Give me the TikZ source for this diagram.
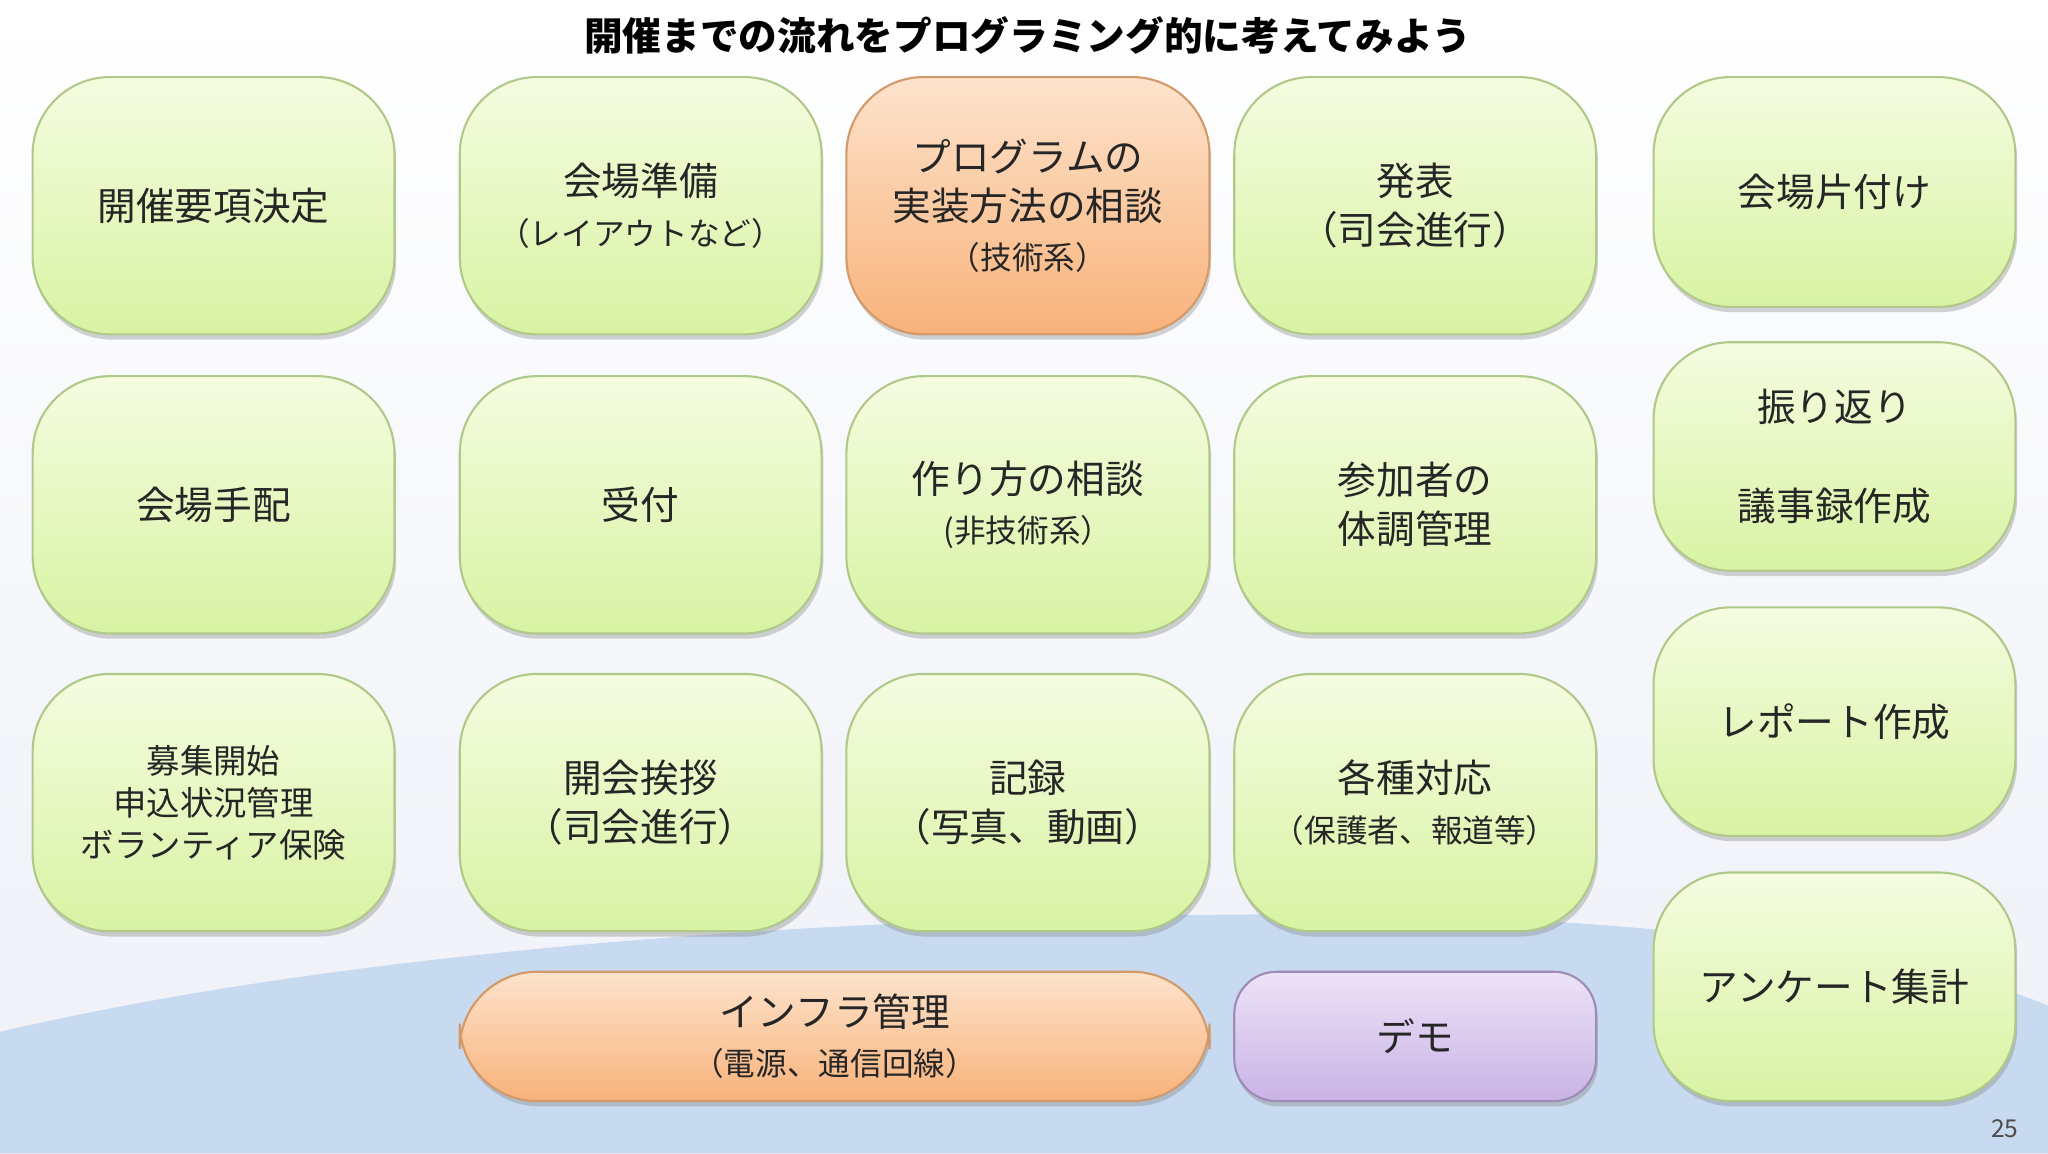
\documentclass[tikz,border=0pt]{standalone}
\usepackage{fontspec}
\newfontfamily\jp{Noto Sans CJK JP}
\usetikzlibrary{shadows}
\definecolor{gA}{HTML}{F5FCE0}\definecolor{gB}{HTML}{D8F3A3}\definecolor{gD}{HTML}{AFC98A}
\definecolor{oA}{HTML}{FDE3CC}\definecolor{oB}{HTML}{F8B27A}\definecolor{oD}{HTML}{D29A6A}
\definecolor{pA}{HTML}{ECE3F7}\definecolor{pB}{HTML}{C9B3E6}\definecolor{pD}{HTML}{9E8BB8}
\definecolor{bgT}{HTML}{FFFFFF}\definecolor{bgB}{HTML}{EEF0F7}\definecolor{arc}{HTML}{C8DAF0}
\tikzset{
 box/.style={rounded corners=22pt,top color=gA,bottom color=gB,draw=gD,line width=0.6pt,
   drop shadow={shadow xshift=0.5pt,shadow yshift=-1.5pt,opacity=0.35}},
 obox/.style={box,top color=oA,bottom color=oB,draw=oD},
 pbox/.style={box,top color=pA,bottom color=pB,draw=pD,rounded corners=12pt},
 lbl/.style={align=center,font=\jp\fontsize{11}{14}\selectfont,text=black!85},
 lsm/.style={lbl,font=\jp\fontsize{9.5}{12}\selectfont}
}
\newcommand{\sm}{\fontsize{9}{11}\selectfont}
\newcommand{\bx}[7][lbl]{\path[#2] (#3,#4) rectangle (#5,#6); \node[#1] at ({(#3+#5)/2},{(#4+#6)/2}) {#7};}
\begin{document}
\begin{tikzpicture}[x=0.013061cm,y=-0.013061cm]
\useasboundingbox (0,0) rectangle (1568,883);
\fill[top color=bgT,bottom color=bgB] (0,0) rectangle (1568,883);
\fill[arc] (0,790) .. controls (300,720) and (700,700) .. (1000,700) .. controls (1300,700) and (1500,740) .. (1568,770) -- (1568,883) -- (0,883) -- cycle;
\node[font=\jp\bfseries\fontsize{11}{13}\selectfont] (title) at (787,27) {開催までの流れをプログラミング的に考えてみよう};
\bx{box}{25}{59}{302}{256}{開催要項決定}
\bx{box}{352}{59}{629}{256}{会場準備\\\sm（レイアウトなど）}
\bx{obox}{648}{59}{926}{256}{プログラムの\\実装方法の相談\\\sm（技術系）}
\bx{box}{945}{59}{1222}{256}{発表\\（司会進行）}
\bx{box}{1266}{59}{1543}{235}{会場片付け}
\bx{box}{25}{288}{302}{485}{会場手配}
\bx{box}{352}{288}{629}{485}{受付}
\bx{box}{648}{288}{926}{485}{作り方の相談\\\sm(非技術系）}
\bx{box}{945}{288}{1222}{485}{参加者の\\体調管理}
\bx{box}{1266}{262}{1543}{437}{振り返り\\[14pt]議事録作成}
\bx[lsm]{box}{25}{516}{302}{713}{募集開始\\申込状況管理\\ボランティア保険}
\bx{box}{352}{516}{629}{713}{開会挨拶\\（司会進行）}
\bx{box}{648}{516}{926}{713}{記録\\（写真、動画）}
\bx{box}{945}{516}{1222}{713}{各種対応\\\sm（保護者、報道等）}
\bx{box}{1266}{465}{1543}{640}{レポート作成}
\bx{box}{1266}{668}{1543}{843}{アンケート集計}
\bx{obox}{352}{744}{926}{843}{インフラ管理\\\sm（電源、通信回線）}
\bx{pbox}{945}{744}{1222}{843}{デモ}
\node[font=\jp\fontsize{7}{8}\selectfont,text=black!70] (pg) at (1535,864) {25};
\end{tikzpicture}
\end{document}
